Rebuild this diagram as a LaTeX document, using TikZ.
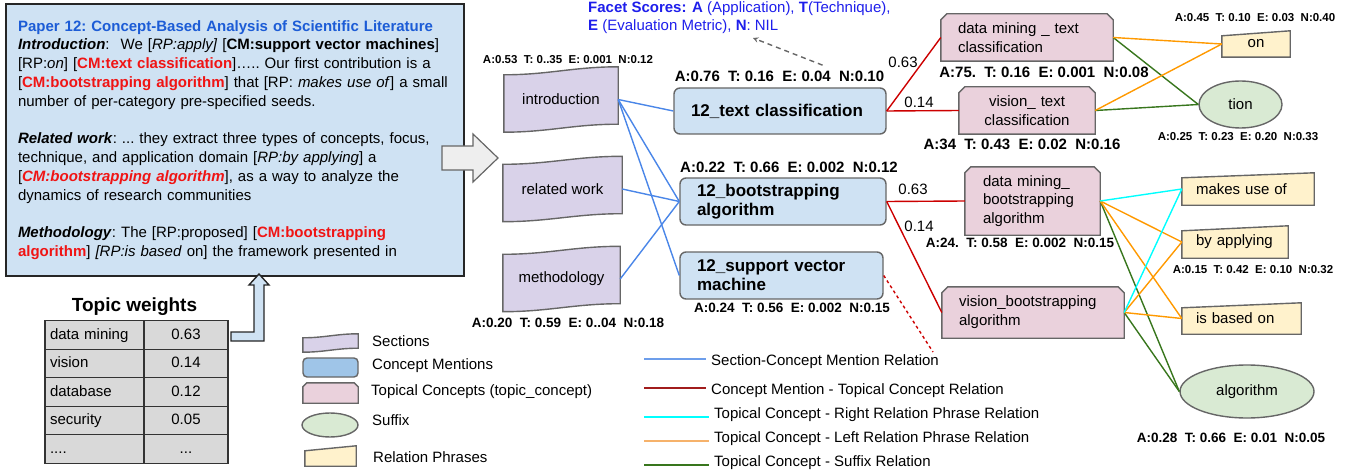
\documentclass[tikz,border=0pt]{standalone}
\usepackage{fontspec}
\setmainfont{Liberation Sans}
\usepackage{tikz}
\usetikzlibrary{shapes.geometric,matrix}
\pgfdeclarelayer{bg}
\pgfdeclarelayer{fg}
\pgfsetlayers{bg,main,fg}

\definecolor{paperblue}{HTML}{CFE2F3}
\definecolor{legblue}{HTML}{9FC5E8}
\definecolor{secviolet}{HTML}{D9D2E9}
\definecolor{tcpink}{HTML}{EAD1DC}
\definecolor{sufgreen}{HTML}{D9EAD3}
\definecolor{rpyellow}{HTML}{FFF2CC}
\definecolor{cellgray}{HTML}{D9D9D9}
\definecolor{arrowgray}{HTML}{EEEEEE}
\definecolor{edgegray}{HTML}{666666}
\definecolor{titleblue}{RGB}{28,92,214}
\definecolor{facetblue}{RGB}{30,30,235}
\definecolor{cmred}{RGB}{240,20,20}
\definecolor{scblue}{HTML}{4A86E8}
\definecolor{legscblue}{HTML}{6D9EEB}
\definecolor{cmtcred}{HTML}{CC0000}
\definecolor{legred}{HTML}{A11C1C}
\definecolor{rrcyan}{HTML}{00FFFF}
\definecolor{lrorange}{HTML}{FF9900}
\definecolor{legorange}{HTML}{F6B26B}
\definecolor{sufline}{HTML}{38761D}

% outlines drawn behind the (empty-shaped) nodes
\newcommand{\secoutline}[2][4pt]{\draw[secfill] ([yshift=-#1]#2.north west) to[out=0,in=180] ([yshift=#1]#2.north east) -- ([yshift=#1]#2.south east) to[out=180,in=0] ([yshift=-#1]#2.south west) -- cycle;}
\newcommand{\topicoutline}[2][6pt]{\draw[tcfill] ([yshift=-#1]#2.north west) -- ([xshift=#1]#2.north west) -- ([xshift=-#1]#2.north east) -- ([yshift=-#1]#2.north east) -- (#2.south east) -- (#2.south west) -- cycle;}
\newcommand{\rpoutline}[2][5pt]{\draw[rpfill] ([yshift=-#1]#2.north west) -- (#2.north east) -- (#2.south east) -- (#2.south west) -- cycle;}

\begin{document}
\begin{tikzpicture}[x=1pt, y=-1pt, font=\fontsize{15}{18.5}\selectfont,
    paperbox/.style={draw=black!85, fill=paperblue, line width=1.5pt, text width=434pt, minimum height=272pt, align=left, inner xsep=12pt, inner ysep=0pt, font=\fontsize{15}{18.8}\selectfont\frenchspacing},
    secbox/.style={minimum width=114pt, minimum height=57pt, inner sep=0pt},
    secfill/.style={draw=edgegray, fill=secviolet, line width=1.4pt},
    cmbox/.style={draw=edgegray, fill=paperblue, line width=1.4pt, rounded corners=6pt, align=left, inner xsep=17pt, inner ysep=0pt, font=\bfseries\fontsize{17}{19}\selectfont},
    tcbox/.style={align=left, inner xsep=17pt, inner ysep=0pt, font=\fontsize{15}{18.8}\selectfont},
    tcfill/.style={draw=edgegray, fill=tcpink, line width=1.4pt},
    rpbox/.style={align=left, inner xsep=14pt, inner ysep=0pt},
    rpfill/.style={draw=edgegray, fill=rpyellow, line width=1.4pt},
    sufbox/.style={ellipse, draw=edgegray, fill=sufgreen, line width=1.4pt, inner sep=0pt},
    bigscore/.style={font=\bfseries\fontsize{15}{18}\selectfont},
    midscore/.style={font=\bfseries\fontsize{13.5}{16}\selectfont},
    smallscore/.style={font=\bfseries\fontsize{11.5}{14}\selectfont},
    wtlabel/.style={font=\fontsize{15}{18}\selectfont},
    screl/.style={scblue, line width=1.4pt},
    cmrel/.style={cmtcred, line width=1.4pt},
    rrrel/.style={rrcyan, line width=1.4pt},
    lrrel/.style={lrorange, line width=1.4pt},
    sufrel/.style={sufline, line width=1.4pt},
    legtext/.style={anchor=west, inner xsep=5pt, inner ysep=0pt, text height=11pt, text depth=3pt}]
\useasboundingbox (0,0) rectangle (1365,476);

% paper text
\node[paperbox] (paper) at (235,140) {%
\textcolor{titleblue}{\textbf{Paper 12: Concept-Based Analysis of Scientific Literature}}\\
\textbf{\textit{Introduction}}:\hspace{11pt}We [\textit{RP:apply]} [\textbf{CM:support vector machines}]\\
{[}RP:\textit{on}] [\textcolor{cmred}{\textbf{CM:text classification}}]….. Our first contribution is a\\
{[}\textcolor{cmred}{\textbf{CM:bootstrapping algorithm}}] that [RP: \textit{makes use of}] a small\\
number of per-category pre-specified seeds.\\[18.8pt]
\textbf{\textit{Related work}}: ... they extract three types of concepts, focus,\\
technique, and application domain [\textit{RP:by applying}] a\\
{[}\textcolor{cmred}{\textbf{\textit{CM:bootstrapping algorithm}}}], as a way to analyze the\\
dynamics of research communities\\[18.8pt]
\textbf{\textit{Methodology}}: The [RP:proposed] [\textcolor{cmred}{\textbf{CM:bootstrapping}}\\
\textcolor{cmred}{\textbf{algorithm}}] \textit{[RP:is based} on] the framework presented in};
\draw[draw=edgegray, fill=arrowgray, line width=1.2pt] (442,146) -- (473,146) -- (473,134) -- (498,158) -- (473,182) -- (473,170) -- (442,170) -- cycle;

% topic weights
\node[font=\bfseries\fontsize{19}{22}\selectfont] (twtitle) at (134.5,307) {Topic weights};
\matrix (tw) [matrix of nodes,
    nodes={draw=black!80, fill=cellgray, line width=1.3pt, minimum height=28.5pt, inner xsep=5pt, text height=11pt, text depth=3pt},
    column 1/.style={nodes={text width=89pt, align=left}},
    column 2/.style={nodes={minimum width=84pt}},
    row sep=-1.3pt, column sep=-1.3pt] at (136.5,392) {
  data mining & 0.63\\
  vision & 0.14\\
  database & 0.12\\
  security & 0.05\\
  .... & ...\\
};
\draw[draw=black!85, fill=paperblue, line width=1.4pt] (231,332) -- (254,332) -- (254,285) -- (249,285) -- (259,274) -- (269,285) -- (264,285) -- (264,341) -- (231,341) -- cycle;

% sections
\node[secbox] (intro) at (561,99.5) {introduction};
\node[secbox, minimum width=119pt] (relwork) at (562.5,189) {related work};
\node[secbox, minimum width=117pt] (method) at (561.5,279) {methodology};
\node[smallscore] (introsc) at (568,60) {A:0.53~~T: 0..35~~E: 0.001~~N:0.12};
\node[midscore] (methodsc) at (568,323) {A:0.20~~T: 0.59~~E: 0..04~~N:0.18};

% concept mentions
\node[cmbox, text width=178pt, minimum height=46pt] (tc) at (780,111) {12\_text classification};
\node[cmbox, text width=172pt, minimum height=47pt] (boot) at (783,201.5) {12\_bootstrapping\\algorithm};
\node[cmbox, text width=169pt, minimum height=47pt] (svm) at (781.5,275.5) {12\_support vector\\machine};
\node[bigscore] (tcsc) at (779.5,76) {A:0.76~~T: 0.16~~E: 0.04~~N:0.10};
\node[bigscore] (bootsc) at (789,167) {A:0.22~~T: 0.66~~E: 0.002~~N:0.12};
\node[midscore] (svmsc) at (792,308) {A:0.24~~T: 0.56~~E: 0.002~~N:0.15};

\node[anchor=north west, align=left, text=facetblue, inner sep=0pt, font=\fontsize{15}{18}\selectfont] (facet) at (588,1.5) {\textbf{Facet Scores: A} (Application), \textbf{T}(Technique),\\\textbf{E} (Evaluation Metric), \textbf{N}: NIL};
\coordinate (facetpt) at (753,38);
\draw[black!60, dash pattern=on 5pt off 4pt, line width=1.4pt, ->, >=stealth] ([xshift=43pt,yshift=2pt]tcsc.north) -- (facetpt);

% topical concepts
\node[tcbox, text width=138pt, minimum height=47pt] (dmtc) at (1027,37.5) {data mining \_ text\\classification};
\node[tcbox, text width=102pt, minimum height=47pt, align=center] (vtc) at (1027,110.5) {vision\_ text\\classification};
\node[tcbox, text width=99pt, inner xsep=18pt, minimum height=68pt] (dmba) at (1032.5,201) {data mining\_\\bootstrapping\\algorithm};
\node[tcbox, text width=148pt, minimum height=51pt] (vba) at (1033,312.5) {vision\_bootstrapping\\algorithm};
\node[bigscore] (dmtcsc) at (1044,72) {A:75.~~T: 0.16~~E: 0.001~~N:0.08};
\node[bigscore] (vtcsc) at (1022,144) {A:34~~T: 0.43~~E: 0.02~~N:0.16};
\node[midscore] (dmbasc) at (1020,243) {A:24.~~T: 0.58~~E: 0.002~~N:0.15};

% relation phrases and suffixes
\node[rpbox, text width=40pt, minimum height=26pt, align=center] (on) at (1256,44) {on};
\node[rpbox, text width=104pt, minimum height=32pt] (mu) at (1248,189) {makes use of};
\node[rpbox, text width=78pt, minimum height=32pt] (ba) at (1235,242) {by applying};
\node[rpbox, text width=91pt, minimum height=31pt] (ibo) at (1241.5,318.5) {is based on};
\node[sufbox, minimum width=83pt, minimum height=47pt] (tion) at (1240.5,104.5) {tion};
\node[sufbox, minimum width=134pt, minimum height=53pt] (alg) at (1247,391.5) {algorithm};
\node[smallscore] (onsc) at (1255,18) {A:0.45~~T: 0.10~~E: 0.03~~N:0.40};
\node[smallscore] (tionsc) at (1238,137) {A:0.25~~T: 0.23~~E: 0.20~~N:0.33};
\node[smallscore] (basc) at (1253,270) {A:0.15~~T: 0.42~~E: 0.10~~N:0.32};
\node[midscore] (algsc) at (1231,438) {A:0.28~~T: 0.66~~E: 0.01~~N:0.05};

% relations
\foreach \a/\b in {intro/tc, intro/boot, intro/svm, relwork/boot, method/boot}
    \draw[screl] (\a.east) -- (\b.west);
\foreach \a/\b in {tc/dmtc, tc/vtc, boot/dmba, boot/vba}
    \draw[cmrel] (\a.east) -- (\b.west);
\coordinate (svmend) at (933,352);
\draw[cmrel, dashed] (svm.east) -- (svmend);
\node[wtlabel] (w1) at (903,62) {0.63};
\node[wtlabel] (w2) at (919,102) {0.14};
\node[wtlabel] (w3) at (913,189) {0.63};
\node[wtlabel] (w4) at (919,226) {0.14};
\foreach \a/\b in {dmtc/tion, vtc/tion, dmba/alg, vba/alg}
    \draw[sufrel] (\a.east) -- (\b.west);
\foreach \a/\b in {dmtc/on, vtc/on, dmba/ba, dmba/ibo, vba/ba, vba/ibo}
    \draw[lrrel] (\a.east) -- (\b.west);
\foreach \a/\b in {dmba/mu, vba/mu}
    \draw[rrrel] (\a.east) -- (\b.west);

% legend
\node[secbox, minimum width=55pt, minimum height=14pt] (lsec) at (330.5,343) {};
\node[cmbox, fill=legblue, minimum width=55pt, minimum height=19pt, rounded corners=4pt] (lcm) at (330.5,367.5) {};
\node[tcbox, minimum width=55pt, minimum height=20pt] (ltc) at (330.5,393) {};
\node[sufbox, minimum width=56pt, minimum height=24pt] (lsuf) at (330,425) {};
\node[rpbox, minimum width=51pt, minimum height=20pt] (lrp) at (330.5,456) {};
\node[legtext] (lsect) at (367,342) {Sections};
\node[legtext] (lcmt) at (367,365) {Concept Mentions};
\node[legtext] (ltct) at (366,391) {Topical Concepts (topic\_concept)};
\node[legtext] (lsuft) at (367,421) {Suffix};
\node[legtext] (lrpt) at (368,458) {Relation Phrases};

\node[legtext] (lsct) at (706,361) {Section-Concept Mention Relation};
\node[legtext] (lcmtct) at (706,390) {Concept Mention - Topical Concept Relation};
\node[legtext] (lrrt) at (709,414) {Topical Concept - Right Relation Phrase Relation};
\node[legtext] (llrt) at (709,438) {Topical Concept - Left Relation Phrase Relation};
\node[legtext] (lsuflt) at (709,462) {Topical Concept - Suffix Relation};
\coordinate (lscs) at (644,359);
\coordinate (lcmtcs) at (644,388);
\coordinate (lrrs) at (644,417);
\coordinate (llrs) at (644,441);
\coordinate (lsufls) at (644,465);
\draw[legscblue, line width=1.4pt] (lscs) -- (lscs -| lsct.west);
\draw[legred, line width=1.4pt] (lcmtcs) -- (lcmtcs -| lcmtct.west);
\draw[rrcyan, line width=1.4pt] (lrrs) -- (lrrs -| lrrt.west);
\draw[legorange, line width=1.4pt] (llrs) -- (llrs -| llrt.west);
\draw[sufline, line width=1.4pt] (lsufls) -- (lsufls -| lsuflt.west);

\begin{pgfonlayer}{bg}
    \foreach \s in {intro,relwork,method} {\secoutline{\s}}
    \secoutline[2pt]{lsec}
    \foreach \s in {dmtc,vtc,dmba,vba} {\topicoutline{\s}}
    \topicoutline[4pt]{ltc}
    \foreach \s in {on,mu,ba,ibo,lrp} {\rpoutline{\s}}
\end{pgfonlayer}
\end{tikzpicture}
\end{document}
